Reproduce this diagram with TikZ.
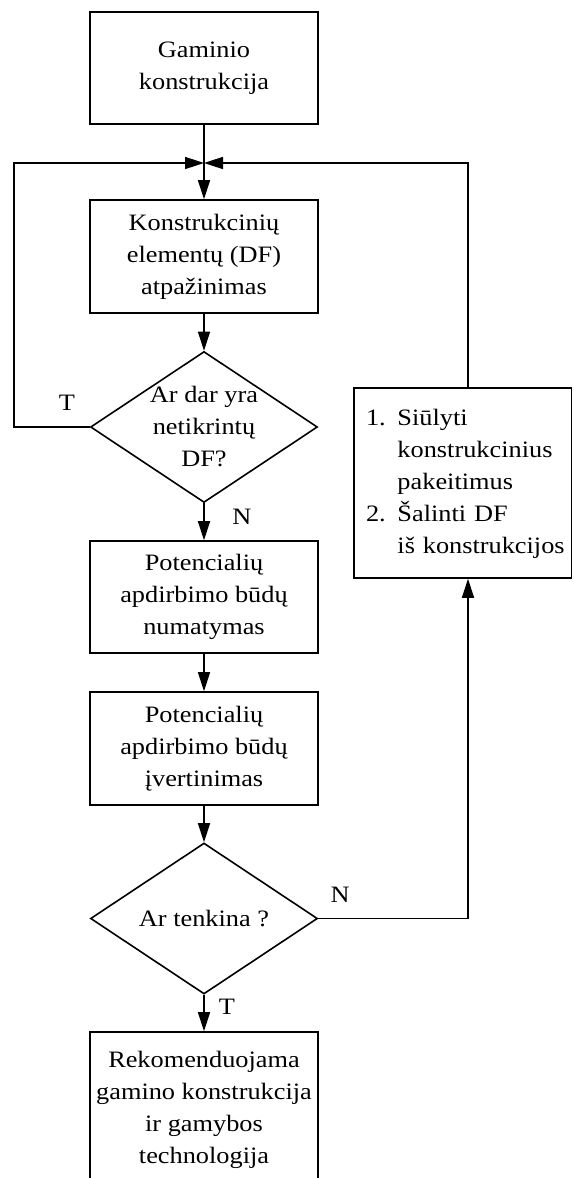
\documentclass[tikz,border=0pt]{standalone}
\usepackage{fontspec}
\setmainfont{Liberation Serif}[FakeStretch=1.12]
\usetikzlibrary{shapes.geometric,arrows.meta}
\begin{document}
\begin{tikzpicture}[x=1pt,y=-1pt,
  font=\fontsize{23.5}{32}\selectfont,
  line width=1.6pt,
  box/.style={draw, rectangle, minimum width=228pt, inner xsep=2pt, align=center},
  dia/.style={draw, diamond, minimum width=227pt, minimum height=151pt, inner sep=0pt},
  arr/.style={-{Triangle[length=19pt,width=12pt]}},
  lbl/.style={inner sep=0pt}
]
\useasboundingbox (0,0) rectangle (573,1178);

% main column
\node[box, minimum height=112pt] (b1) at (204,68) {Gaminio\\konstrukcija};
\node[box, minimum height=113pt] (b2) at (204,256.5) {Konstrukcinių\\elementų (DF)\\atpažinimas};
\node[dia, label={[align=center]center:Ar dar yra\\netikrintų\\DF?}] (d1) at (204,427) {};
\node[box, minimum height=112pt] (b3) at (204,597) {Potencialių\\apdirbimo būdų\\numatymas};
\node[box, minimum height=113pt] (b4) at (204,748.5) {Potencialių\\apdirbimo būdų\\įvertinimas};
\node[dia, label={center:Ar tenkina ?}] (d2) at (204,918.5) {};
\node[box, minimum height=155pt] (b5) at (204,1109.5) {Rekomenduojama\\gamino konstrukcija\\ir gamybos\\technologija};

% side box with the corrective actions
\node[draw, rectangle, minimum width=217.5pt, minimum height=190pt,
      inner xsep=12pt, text width=193.5pt, align=left] (rb) at (462.75,483)
  {\begin{tabular}{@{}l@{ }l@{}}1.&Siūlyti\\&konstrukcinius\\&pakeitimus\\2.&Šalinti DF\\&iš konstrukcijos\end{tabular}};

% branch labels
\node[lbl] (t1) at (67,403) {T};
\node[lbl] (n1) at (242,517) {N};
\node[lbl] (n2) at (340,895) {N};
\node[lbl] (t2) at (227,1007) {T};

% junction and loop corners
\coordinate (J) at (204,163);
\coordinate (L) at (14,163);
\coordinate (R) at (468,163);

% connectors
\draw[arr] (b1) -- (b2);
\draw[arr] (b2) -- (d1);
\draw[arr] (d1) -- (b3);
\draw[arr] (b3) -- (b4);
\draw[arr] (b4) -- (d2);
\draw[arr] (d2) -- (b5);
\draw[arr] (d1.west) -| (L) -- (J);
\draw[arr] (R |- rb.north) -- (R) -- (J);
\draw[arr] (d2.east) -| (R |- rb.south);
\end{tikzpicture}
\end{document}
